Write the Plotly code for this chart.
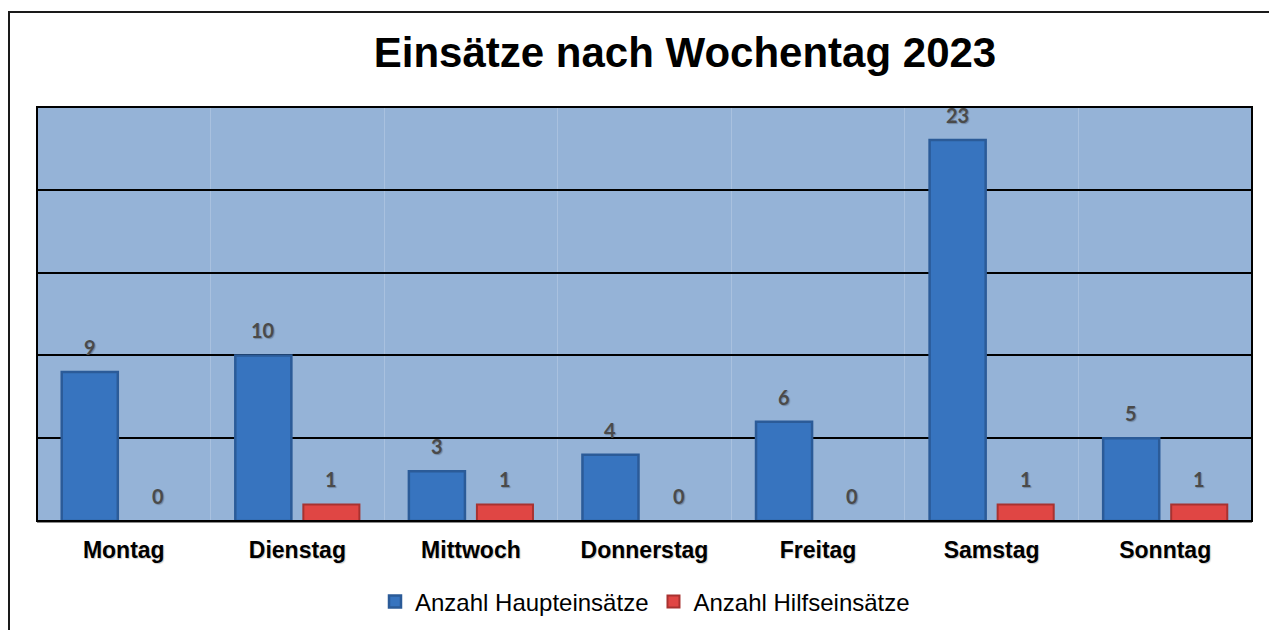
import plotly.graph_objects as go

days = ["Montag", "Dienstag", "Mittwoch", "Donnerstag", "Freitag", "Samstag", "Sonntag"]
haupt = [9, 10, 3, 4, 6, 23, 5]
hilfe = [0, 1, 1, 0, 0, 1, 1]
series_names = ["Anzahl Haupteinsätze", "Anzahl Hilfseinsätze"]
title_text = "Einsätze nach Wochentag 2023"

# page body has an 8px margin; figure is placed at (8, 8)
OFF = 8
W, H = 1277 - OFF, 630 - OFF
PL, PR, PT, PB = 37, 1252, 107, 521  # plot area in page pixels
ML, MT = PL - OFF, PT - OFF
MR = 1277 - PR
MB = 630 - PB
plot_w = PR - PL
plot_h = PB - PT
slot_px = plot_w / len(days) * (1 - 0.216) / 2

fig = go.Figure()
fig.add_trace(go.Bar(
    x=days, y=haupt, name=series_names[0],
    marker=dict(color="#3774bf", line=dict(color="#2b5b98", width=2.5)),
))
fig.add_trace(go.Bar(
    x=days, y=hilfe, name=series_names[1],
    marker=dict(color="#e04644", line=dict(color="#a83230", width=2)),
))

label_font = dict(family="Lato, Open Sans, Arial", size=20, color="#4a4a4a",
                  weight="bold", shadow="1px 1px 1px rgba(0,0,0,0.25)")
for vals, sh in ((haupt, -slot_px / 2), (hilfe, slot_px / 2)):
    for d, v in zip(days, vals):
        fig.add_annotation(x=d, y=v, text=str(v), showarrow=False,
                           xshift=sh, yshift=25, yanchor="middle",
                           font=label_font)

fig.add_shape(type="rect", xref="paper", yref="paper",
              x0=(9 - PL) / plot_w, x1=(1290 - PL) / plot_w,
              y0=-(645 - PB) / plot_h, y1=(PB - 12) / plot_h,
              line=dict(color="#1a1a1a", width=2), fillcolor="rgba(0,0,0,0)",
              layer="below")
fig.add_shape(type="rect", xref="paper", yref="paper", x0=0, x1=1, y0=0, y1=1,
              line=dict(color="black", width=2), fillcolor="rgba(0,0,0,0)")

fig.update_layout(
    width=W, height=H,
    margin=dict(l=ML, r=MR, t=MT, b=MB, autoexpand=False),
    paper_bgcolor="white",
    plot_bgcolor="#95b3d7",
    barmode="group", bargap=0.216, bargroupgap=0.176,
    title=dict(text=title_text, xref="container", x=(685 - OFF) / W, xanchor="center",
               y=1 - (52 - OFF) / H, yanchor="middle",
               font=dict(family="Liberation Sans, Arial", size=42, color="black",
                         weight="bold")),
    showlegend=True,
    legend=dict(orientation="h", x=(645 - PL) / plot_w, xanchor="center",
                yref="container", y=1 - (602 - OFF) / H, yanchor="middle",
                font=dict(family="Liberation Sans, Arial", size=24, color="black"),
                itemwidth=30, bgcolor="rgba(0,0,0,0)"),
    xaxis=dict(tickson="boundaries", showgrid=True, gridcolor="#a9c1df", gridwidth=1,
               ticks="", showline=True, linecolor="#8a8a8a", linewidth=2,
               tickfont=dict(family="Liberation Sans, Arial", size=23, color="black",
                             weight="bold", shadow="1px 1px 1px rgba(0,0,0,0.2)"),
               ticklabelstandoff=7, automargin=False),
    yaxis=dict(range=[0, 25], dtick=5, showgrid=True, gridcolor="black", gridwidth=1.5,
               showticklabels=False, zeroline=False, ticks="", automargin=False),
)

fig.write_html("out.html")
